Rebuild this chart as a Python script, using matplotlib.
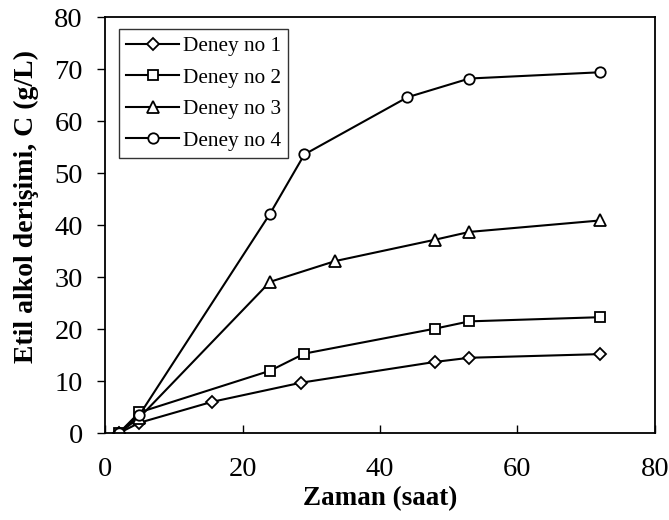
import matplotlib
matplotlib.use("Agg")
import matplotlib.pyplot as plt

plt.rcParams['font.family'] = ['Liberation Serif', 'DejaVu Serif']

x1 = [2, 5, 15.5, 28.5, 48, 53, 72]
y1 = [0, 2, 6, 9.7, 13.7, 14.5, 15.2]
x2 = [2, 5, 24, 29, 48, 53, 72]
y2 = [0, 4, 12, 15.3, 20.1, 21.5, 22.3]
x3 = [2, 5, 24, 33.5, 48, 53, 72]
y3 = [0, 3, 29.1, 33.1, 37.2, 38.7, 40.9]
x4 = [2, 5, 24, 29, 44, 53, 72]
y4 = [0, 3.5, 42.2, 53.6, 64.6, 68.2, 69.4]
labels = ["Deney no 1", "Deney no 2", "Deney no 3", "Deney no 4"]

fig = plt.figure(figsize=(6.69, 5.20), dpi=100)
ax = fig.add_axes([0.157, 0.167, 0.822, 0.800])

common = dict(color='black', linewidth=1.5, markerfacecolor='white',
              markeredgecolor='black', markeredgewidth=1.3)
ax.plot(x1, y1, marker='D', markersize=6, label=labels[0], **common)
ax.plot(x2, y2, marker='s', markersize=7, label=labels[1], **common)
ax.plot(x3, y3, marker='^', markersize=8.5, label=labels[2], **common)
ax.plot(x4, y4, marker='o', markersize=7.5, label=labels[3], **common)

ax.set_xlim(0, 80)
ax.set_ylim(0, 80)
ax.set_xticks(range(0, 81, 20))
ax.set_yticks(range(0, 81, 10))
ax.tick_params(axis='x', direction='in', length=6, width=1, labelsize=20.5, pad=17)
ax.tick_params(axis='y', direction='out', length=6, width=1, labelsize=20.5, pad=10)
for s in ax.spines.values():
    s.set_linewidth(1.3)

ax.set_xlabel("Zaman (saat)", fontsize=19.5, fontweight='bold')
ax.xaxis.set_label_coords(0.5, -0.128)
ax.set_ylabel("Etil alkol derişimi, C (g/L)", fontsize=20, fontweight='bold')
ax.yaxis.set_label_coords(-0.12, 0.545)

leg = ax.legend(loc='upper left', bbox_to_anchor=(0.025, 0.972), fontsize=15.3,
                frameon=True, fancybox=False, edgecolor='black',
                handlelength=2.5, borderpad=0.35, labelspacing=0.55,
                handletextpad=0.15, borderaxespad=0.0)
leg.get_frame().set_linewidth(1.0)

fig.savefig("out.png", dpi=100)
